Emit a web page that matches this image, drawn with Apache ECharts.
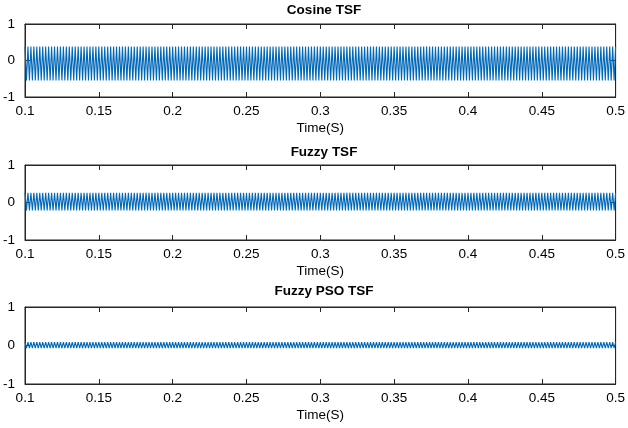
<!DOCTYPE html>
<html>
<head>
<meta charset="utf-8">
<script src="https://cdn.jsdelivr.net/npm/echarts@6/dist/echarts.min.js"></script>
<style>html,body{margin:0;padding:0;background:#fff}#c{width:628px;height:428px}</style>
</head>
<body>
<div id="c"></div>
<script>
// ---- data ----
const titles = ['Cosine TSF', 'Fuzzy TSF', 'Fuzzy PSO TSF'];
const xTicks = [0.1, 0.15, 0.2, 0.25, 0.3, 0.35, 0.4, 0.45, 0.5];
const yTicks = [-1, 0, 1];
const xName = 'Time(S)';
// time span and number of oscillation cycles visible across it
const tStart = 0.1, tEnd = 0.5;
const cycles = 200;
// upper / lower peak envelope read at each x tick
const cosineHi = [0.38, 0.38, 0.38, 0.38, 0.38, 0.38, 0.38, 0.38, 0.38];
const cosineLo = [-0.55, -0.55, -0.55, -0.55, -0.55, -0.55, -0.55, -0.55, -0.55];
const fuzzyHi = [0.26, 0.26, 0.26, 0.26, 0.26, 0.26, 0.26, 0.26, 0.26];
const fuzzyLo = [-0.21, -0.21, -0.21, -0.21, -0.21, -0.21, -0.21, -0.21, -0.21];
const psoHi = [0.09, 0.09, 0.09, 0.09, 0.09, 0.09, 0.09, 0.09, 0.09];
const psoLo = [-0.07, -0.07, -0.07, -0.07, -0.07, -0.07, -0.07, -0.07, -0.07];

// build oscillation: alternate between the envelope peaks
function envAt(arr, t) {
  const step = (tEnd - tStart) / (arr.length - 1);
  const i = Math.min(arr.length - 1, Math.round((t - tStart) / step));
  return arr[i];
}
function build(hi, lo) {
  const out = [];
  const n = cycles * 2;
  for (let k = 0; k <= n; k++) {
    const t = tStart + (tEnd - tStart) * k / n;
    out.push([t, k % 2 === 0 ? envAt(hi, t) : envAt(lo, t)]);
  }
  return out;
}
const seriesData = [build(cosineHi, cosineLo), build(fuzzyHi, fuzzyLo), build(psoHi, psoLo)];

const FONT = 'Liberation Sans';
const AX = '#262626';
const grids = [
  {left: 25, right: 5, top: 24, height: 73},
  {left: 25, right: 5, top: 165, height: 75},
  {left: 25, right: 5, top: 307, height: 77}
];
const titleTops = [3, 145, 284];
const xAxes = [], yAxes = [], series = [], titleArr = [];
grids.forEach((g, i) => {
  g.show = true; g.borderColor = AX; g.borderWidth = 1; g.backgroundColor = '#fff';
  const common = {
    gridIndex: i, min: tStart, max: tEnd, interval: 0.05,
    axisLine: {show: true, onZero: false, lineStyle: {color: AX, width: 1}},
    axisTick: {show: true, inside: true, length: 5, lineStyle: {color: AX}},
    splitLine: {show: false}
  };
  xAxes.push(Object.assign({}, common, {
    type: 'value', position: 'bottom',
    name: xName, nameLocation: 'middle', nameGap: 24,
    nameTextStyle: {fontFamily: FONT, fontSize: 13.5, color: '#000'},
    axisLabel: {fontFamily: FONT, fontSize: 13.5, color: '#000', margin: 7,
      formatter: v => String(+v.toFixed(2))}
  }));
  xAxes.push(Object.assign({}, common, {type: 'value', position: 'top', axisLabel: {show: false}}));
  const ycommon = {
    gridIndex: i, type: 'value', min: -1, max: 1, interval: 1,
    axisLine: {show: true, onZero: false, lineStyle: {color: AX, width: 1}},
    axisTick: {show: true, inside: true, length: 5, lineStyle: {color: AX}},
    splitLine: {show: false}
  };
  yAxes.push(Object.assign({}, ycommon, {position: 'left',
    axisLabel: {fontFamily: FONT, fontSize: 13.5, color: '#000', margin: 10,
      formatter: v => String(v)}}));
  yAxes.push(Object.assign({}, ycommon, {position: 'right', axisLabel: {show: false}}));
  series.push({
    type: 'line', xAxisIndex: i * 2, yAxisIndex: i * 2, data: seriesData[i],
    showSymbol: false, symbol: 'none', animation: false,
    lineStyle: {color: '#0068B8', width: 1.1}, clip: true
  });
  titleArr.push({
    text: titles[i], left: 25 + (628 - 25 - 5) / 2, top: titleTops[i], textAlign: 'center',
    padding: 0,
    textStyle: {fontFamily: FONT, fontSize: 13.5, fontWeight: 'bold', color: '#000'}
  });
});

const chart = echarts.init(document.getElementById('c'), null, {renderer: 'canvas'});
chart.setOption({
  animation: false,
  backgroundColor: '#fff',
  title: titleArr,
  grid: grids,
  xAxis: xAxes,
  yAxis: yAxes,
  series: series
});
</script>
</body>
</html>
